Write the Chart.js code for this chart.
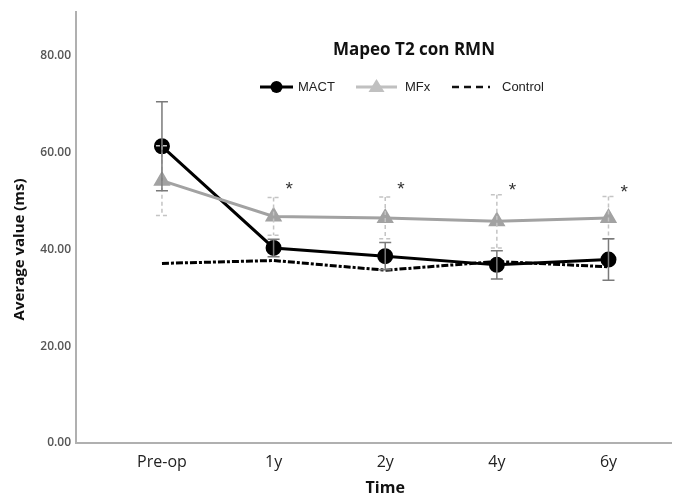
<!DOCTYPE html>
<html>
<head>
<meta charset="utf-8">
<script src="https://cdn.jsdelivr.net/npm/chart.js@4"></script>
<style>
  html, body { margin: 0; padding: 0; background: #fff; }
  #wrap { width: 681px; height: 497px; }
</style>
</head>
<body>
<div id="wrap"><canvas id="t2-chart"></canvas></div>
<script>
// data
const timepoints = ['Pre-op', '1y', '2y', '4y', '6y'];
const mactValues = [61.3, 40.3, 38.6, 36.8, 37.9];
const mactErrors = [9.2, 1.8, 2.8, 2.9, 4.3];
const mfxValues = [54.2, 46.8, 46.5, 45.8, 46.5];
const mfxErrors = [7.2, 3.9, 4.3, 5.5, 4.4];
const controlValues = [37.1, 37.7, 35.7, 37.5, 36.4];
const asteriskY = [null, 53.2, 53.2, 53.0, 52.6];
const yTicks = [0, 20, 40, 60, 80];

function toPoints(values) {
    return values.map((v, i) => ({ x: i, y: v }));
}

// error bars + asterisks drawn through the chart's scales
const errorBars = {
    id: 'errorBars',
    afterDatasetsDraw(chart) {
        const ctx = chart.ctx;
        const x = chart.scales.x;
        const y = chart.scales.y;
        const drawBars = (values, errors, color, dash) => {
            ctx.save();
            ctx.strokeStyle = color;
            ctx.lineWidth = 1.5;
            ctx.setLineDash(dash);
            values.forEach((v, i) => {
                const px = x.getPixelForValue(i);
                const top = y.getPixelForValue(v + errors[i]);
                const bot = y.getPixelForValue(v - errors[i]);
                ctx.beginPath();
                ctx.moveTo(px, top);
                ctx.lineTo(px, bot);
                ctx.moveTo(px - 6, top);
                ctx.lineTo(px + 6, top);
                ctx.moveTo(px - 6, bot);
                ctx.lineTo(px + 6, bot);
                ctx.stroke();
            });
            ctx.restore();
        };
        drawBars(mfxValues, mfxErrors, '#c4c4c4', [4, 3]);
        drawBars(mactValues, mactErrors, '#7a7a7a', []);

        ctx.save();
        ctx.fillStyle = '#333';
        ctx.font = '19px "Liberation Sans"';
        ctx.textAlign = 'center';
        ctx.textBaseline = 'middle';
        asteriskY.forEach((v, i) => {
            if (v === null) return;
            ctx.fillText('*', x.getPixelForValue(i + 0.14), y.getPixelForValue(v) + 4);
        });
        ctx.restore();
    }
};

// title, legend and axis titles laid out like the original
const annotations = {
    id: 'annotations',
    afterDraw(chart) {
        const ctx = chart.ctx;
        const x = chart.scales.x;
        const y = chart.scales.y;
        ctx.save();
        ctx.fillStyle = '#111';
        ctx.textAlign = 'center';
        ctx.textBaseline = 'middle';
        ctx.font = 'bold 17px "Open Sans"';
        ctx.fillText('Mapeo T2 con RMN', 414, 50);

        // legend
        const ly = 87;
        ctx.lineWidth = 3;
        ctx.strokeStyle = '#000';
        ctx.beginPath(); ctx.moveTo(260, ly); ctx.lineTo(293, ly); ctx.stroke();
        ctx.fillStyle = '#000';
        ctx.beginPath(); ctx.arc(276.5, ly, 6, 0, Math.PI * 2); ctx.fill();

        ctx.strokeStyle = '#c0c0c0';
        ctx.beginPath(); ctx.moveTo(356, ly); ctx.lineTo(397, ly); ctx.stroke();
        ctx.fillStyle = '#c0c0c0';
        ctx.beginPath(); ctx.moveTo(376.5, ly - 8); ctx.lineTo(384.5, ly + 5); ctx.lineTo(368.5, ly + 5); ctx.closePath(); ctx.fill();

        ctx.strokeStyle = '#111';
        ctx.lineWidth = 2.5;
        ctx.setLineDash([7, 5]);
        ctx.beginPath(); ctx.moveTo(452, ly); ctx.lineTo(490, ly); ctx.stroke();
        ctx.setLineDash([]);

        ctx.fillStyle = '#222';
        ctx.textAlign = 'left';
        ctx.font = '13px "Liberation Sans"';
        ctx.fillText('MACT', 298, ly);
        ctx.fillText('MFx', 405, ly);
        ctx.fillText('Control', 502, ly);

        // axis titles
        ctx.fillStyle = '#111';
        ctx.textAlign = 'center';
        ctx.font = 'bold 16px "Open Sans"';
        ctx.fillText('Time', x.getPixelForValue(2), 488);
        ctx.font = 'bold 15px "Open Sans"';
        ctx.translate(20, y.getPixelForValue(40));
        ctx.rotate(-Math.PI / 2);
        ctx.fillText('Average value (ms)', 0, 0);
        ctx.restore();
    }
};

new Chart(document.querySelector('#t2-chart').getContext('2d'), {
    type: 'line',
    data: {
        datasets: [
            {
                label: 'Control',
                data: toPoints(controlValues),
                borderColor: '#000',
                borderWidth: 3,
                borderDash: [7, 2, 3, 2],
                pointRadius: 0,
                tension: 0
            },
            {
                label: 'MFx',
                data: toPoints(mfxValues),
                borderColor: '#a2a2a2',
                backgroundColor: '#a2a2a2',
                borderWidth: 3,
                pointStyle: 'triangle',
                pointRadius: 7,
                tension: 0
            },
            {
                label: 'MACT',
                data: toPoints(mactValues),
                borderColor: '#000',
                backgroundColor: '#000',
                borderWidth: 3,
                pointStyle: 'circle',
                pointRadius: 6.5,
                tension: 0
            }
        ]
    },
    options: {
        responsive: true,
        maintainAspectRatio: false,
        animation: false,
        layout: { padding: { top: 11, right: 0, left: 0, bottom: 0 } },
        plugins: {
            legend: { display: false },
            title: { display: false },
            tooltip: { enabled: false }
        },
        scales: {
            x: {
                type: 'linear',
                min: -0.77,
                max: 4.56,
                afterBuildTicks: scale => {
                    scale.ticks = timepoints.map((t, i) => ({ value: i }));
                },
                afterFit: scale => { scale.height = 54; },
                grid: { display: false, drawTicks: false },
                border: { display: true, color: '#b0b0b0', width: 2 },
                ticks: {
                    padding: 10,
                    color: '#222',
                    font: { family: 'Open Sans', size: 16 },
                    callback: value => timepoints[value]
                }
            },
            y: {
                min: 0,
                max: 89,
                afterBuildTicks: scale => {
                    scale.ticks = yTicks.map(v => ({ value: v }));
                },
                afterFit: scale => { scale.width = 76; },
                grid: { display: false, drawTicks: false },
                border: { display: true, color: '#b0b0b0', width: 2 },
                ticks: {
                    padding: 5,
                    color: '#555',
                    font: { family: 'Open Sans', size: 12, weight: '600' },
                    callback: value => value.toFixed(2)
                }
            }
        }
    },
    plugins: [errorBars, annotations]
});
</script>
</body>
</html>
